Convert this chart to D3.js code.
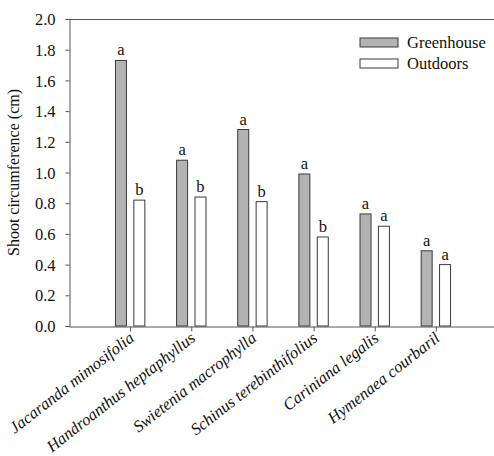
<!DOCTYPE html>
<html>
<head>
<meta charset="utf-8">
<script src="https://cdn.jsdelivr.net/npm/d3@7"></script>
<style>
body{margin:0;background:#fff;}
text{font-family:"Liberation Serif","Times New Roman",serif;fill:#111;}
</style>
</head>
<body>
<svg id="chart" width="494" height="456"></svg>
<script>
var species = ["Jacaranda mimosifolia","Handroanthus heptaphyllus","Swietenia macrophylla",
    "Schinus terebinthifolius","Cariniana legalis","Hymenaea courbaril"];
var greenhouse = [1.73,1.08,1.28,0.99,0.73,0.49];
var outdoors = [0.82,0.84,0.81,0.58,0.65,0.40];
var greenhouseLetters = ["a","a","a","a","a","a"];
var outdoorsLetters = ["b","b","b","b","a","a"];
var yTicks = [0,0.2,0.4,0.6,0.8,1.0,1.2,1.4,1.6,1.8,2.0];
var seriesNames = ["Greenhouse","Outdoors"];

var svg = d3.select("#chart");
var mLeft = 69, mTop = 19, mBottom = 326, mRight = 497;

// categories sit on slots 1..6 of a 0..7 axis
var x = d3.scaleLinear().domain([0,7]).range([mLeft,mRight]);
var y = d3.scaleLinear().domain([0,2]).range([mBottom,mTop]);

var barW = 11, off = 9.2;
var fills = ["#b3b3b3","#ffffff"];

// frame top line
svg.append("line").attr("x1",mLeft).attr("x2",mRight).attr("y1",mTop+0.5).attr("y2",mTop+0.5)
    .attr("stroke","#555").attr("stroke-width",1);

var yAxis = svg.append("g").attr("transform","translate("+(mLeft+0.5)+",0)")
    .call(d3.axisLeft(y).tickValues(yTicks).tickFormat(d3.format(".1f")).tickSize(4).tickPadding(10));
yAxis.selectAll("text").style("font-size","16.5px").attr("dy","0.34em");

var xAxis = svg.append("g").attr("transform","translate(0,"+(mBottom+0.5)+")")
    .call(d3.axisBottom(x).tickValues(d3.range(1,7)).tickFormat("").tickSize(5).tickSizeOuter(0));
svg.selectAll(".domain").attr("stroke","#555");
svg.selectAll(".tick line").attr("stroke","#555");

var series = [greenhouse,outdoors];
var letters = [greenhouseLetters,outdoorsLetters];
series.forEach(function(vals,s){
    var cx = function(d,i){ return x(i+1) + (s==0 ? -off : off); };
    svg.append("g").selectAll("rect").data(vals).enter().append("rect")
        .attr("x",function(d,i){ return cx(d,i)-barW/2; })
        .attr("y",function(d){ return y(d); })
        .attr("width",barW)
        .attr("height",function(d){ return y(0)-y(d); })
        .attr("fill",fills[s])
        .attr("stroke","#3a3a3a")
        .attr("stroke-width",1);
    svg.append("g").selectAll("text").data(vals).enter().append("text")
        .attr("x",cx)
        .attr("y",function(d){ return y(d)-5; })
        .attr("text-anchor","middle")
        .style("font-size","16.5px")
        .text(function(d,i){ return letters[s][i]; });
});

// category labels
svg.append("g").selectAll("text").data(species).enter().append("text")
    .attr("transform",function(d,i){ return "translate("+(x(i+1)+5)+","+(mBottom+14)+") rotate(-38)"; })
    .attr("text-anchor","end")
    .style("font-size","16.5px")
    .style("font-style","italic")
    .text(function(d){ return d; });

// y title
svg.append("text")
    .attr("transform","translate(19,"+((mTop+mBottom)/2)+") rotate(-90)")
    .attr("text-anchor","middle")
    .style("font-size","16px")
    .text("Shoot circumference (cm)");

// legend
var legend = svg.append("g");
seriesNames.forEach(function(name,s){
    var ly = 38 + s*21;
    legend.append("rect").attr("x",360).attr("y",ly).attr("width",38).attr("height",9)
        .attr("fill",fills[s]).attr("stroke","#3a3a3a");
    legend.append("text").attr("x",407).attr("y",ly+9.5)
        .style("font-size","16.5px").text(name);
});
</script>
</body>
</html>
